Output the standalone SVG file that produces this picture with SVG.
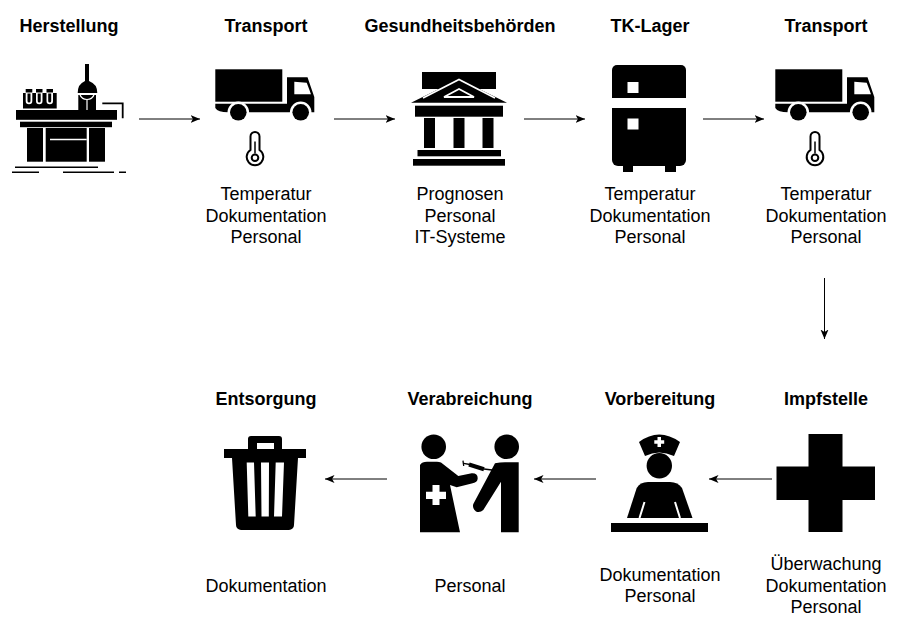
<svg xmlns="http://www.w3.org/2000/svg" xmlns:xlink="http://www.w3.org/1999/xlink" width="900" height="630" viewBox="0 0 900 630">
<style>
text{font-family:"Liberation Sans",Arial,sans-serif;font-size:18px;fill:#000;text-anchor:middle}
.t{font-weight:bold}
.c{stroke:#000;stroke-width:1;fill:none;marker-end:url(#a)}
.w{fill:#fff}
.ws{stroke:#fff;fill:none}
</style>
<defs>
<marker id="a" markerUnits="userSpaceOnUse" markerWidth="12" markerHeight="10" refX="9.500" refY="4" orient="auto" viewBox="0 0 12 8"><path d="M0 0L9.500 4L0 8L2.400 4Z"/></marker>
<g id="truck">
<rect x="215.300" y="69.300" width="67" height="32.400"/>
<path d="M215.300 103.700H287V77.300H307.500L314.300 97V112.300H228Q218 112.300 215.300 108Z"/>
<path class="w" d="M294.300 81.700L306.700 82.700L311 94.300H294.300Z"/>
<circle cx="238.300" cy="112.300" r="10.800" class="w"/><circle cx="238.300" cy="112.300" r="8.300"/>
<circle cx="300.700" cy="112.300" r="10.800" class="w"/><circle cx="300.700" cy="112.300" r="8.300"/>
<path d="M250.500 150V136.500a4.500 4.500 0 0 1 9 0V150a8.300 8.300 0 1 1-9 0Z" fill="#fff" stroke="#000" stroke-width="2"/>
<circle cx="255" cy="157.700" r="3.300" fill="#fff" stroke="#000" stroke-width="2"/>
<path d="M255 141.500V153.500" stroke="#000" stroke-width="1.500"/>
</g>
</defs>
<g id="connectors">
<path class="c" d="M139 119H200"/>
<path class="c" d="M334 119H395"/>
<path class="c" d="M524 119H585"/>
<path class="c" d="M703 119H764"/>
<path class="c" d="M824.500 278V339"/>
<path class="c" d="M772 479H709"/>
<path class="c" d="M596 479H534"/>
<path class="c" d="M387 479H325"/>
</g>
<g id="herstellung">
<text class="t" x="69" y="32">Herstellung</text>
<rect x="16" y="110" width="101" height="9.800"/>
<rect x="20" y="121.700" width="92" height="5.500"/>
<rect x="27" y="128" width="16" height="33.700"/>
<rect x="45.700" y="128" width="41" height="33.700"/>
<rect x="89" y="128" width="16" height="33.700"/>
<path class="ws" stroke-width="1.500" d="M50 139.500H86.700"/>
<rect x="23" y="93" width="33.700" height="15.500"/>
<path class="w" d="M25.700 92H32.300V101a3.300 3.300 0 0 1-6.600 0ZM36 92H42.500V101a3.250 3.250 0 0 1-6.500 0ZM46.500 92H53V101a3.250 3.250 0 0 1-6.500 0Z"/>
<path d="M27.500 93.500H30.500V101a1.500 1.500 0 0 1-3 0ZM37.700 93.500H40.700V101a1.500 1.500 0 0 1-3 0ZM48.200 93.500H51.200V101a1.500 1.500 0 0 1-3 0Z"/>
<rect x="25.700" y="89" width="6.600" height="3.500"/><rect x="36" y="89" width="6.500" height="3.500"/><rect x="46.500" y="89" width="6.500" height="3.500"/>
<path d="M85 64H89V81Q97.300 84 97.300 93H77.700Q77.700 84 85 81Z"/>
<rect x="78.300" y="95" width="17.700" height="15"/>
<path class="ws" stroke-width="1.200" d="M87 99.500V110M79.500 93.500Q81.500 99.500 87 99.500Q92.500 99.500 94.500 93.500"/>
<path d="M102.300 103.300H122.700V118.300" fill="none" stroke="#000" stroke-width="1.800"/>
<path d="M15 167.300H98M12 172.300H39M63 172.300H114M119 172.300H126" fill="none" stroke="#000" stroke-width="1.500"/>
</g>
<g id="transport1">
<text class="t" x="266" y="32">Transport</text>
<use xlink:href="#truck"/>
<text x="266" y="199.500">Temperatur</text><text x="266" y="221.500">Dokumentation</text><text x="266" y="242.500">Personal</text>
</g>
<g id="behoerden">
<text class="t" x="460" y="32">Gesundheitsbehörden</text>
<rect x="422" y="72" width="74" height="17"/>
<path d="M459 79L411 102.700H507Z"/>
<path class="ws" stroke-width="1.800" d="M423 98L459 79.500L495 98"/>
<path d="M459 89L444 97H474Z" fill="#000" stroke="#fff" stroke-width="1.800"/>
<rect x="415" y="105.700" width="88" height="11"/>
<rect x="424" y="118" width="11" height="30"/><rect x="453.500" y="118" width="11" height="30"/><rect x="482.500" y="118" width="11" height="30"/>
<rect x="417.500" y="150" width="83.500" height="6.300"/>
<rect x="413" y="159" width="92" height="6.700"/>
<text x="460" y="199.500">Prognosen</text><text x="460" y="221.500">Personal</text><text x="460" y="242.500">IT-Systeme</text>
</g>
<g id="tklager">
<text class="t" x="650" y="32">TK-Lager</text>
<path d="M612 98V70a5 5 0 0 1 5-5H681a5 5 0 0 1 5 5V98Z"/>
<path d="M612 108H686V160a6 6 0 0 1-6 6H618a6 6 0 0 1-6-6Z"/>
<rect x="623" y="165" width="10" height="7"/><rect x="665" y="165" width="11" height="7"/>
<rect class="w" x="627.500" y="82" width="11" height="11"/><rect class="w" x="627.500" y="118.500" width="11" height="11"/>
<text x="650" y="199.500">Temperatur</text><text x="650" y="221.500">Dokumentation</text><text x="650" y="242.500">Personal</text>
</g>
<g id="transport2">
<text class="t" x="826" y="32">Transport</text>
<use xlink:href="#truck" x="560"/>
<text x="826" y="199.500">Temperatur</text><text x="826" y="221.500">Dokumentation</text><text x="826" y="242.500">Personal</text>
</g>
<g id="impfstelle">
<text class="t" x="826" y="405">Impfstelle</text>
<path d="M808.500 434H842.500V466.500H875V500H842.500V532H808.500V500H776.500V466.500H808.500Z"/>
<text x="826" y="570">Überwachung</text><text x="826" y="591.500">Dokumentation</text><text x="826" y="612.500">Personal</text>
</g>
<g id="vorbereitung">
<text class="t" x="660" y="405">Vorbereitung</text>
<path d="M639 442Q659 427 680 442L674 456Q659 449 645 456Z"/>
<path class="w" d="M657.500 437h3.500v3.200h3.200v3.500h-3.200v3.200h-3.500v-3.200h-3.200v-3.500h3.200Z"/>
<circle cx="659.300" cy="465.700" r="12.700"/>
<path d="M627 518L636.700 488Q640 482 648 482H670Q678 482 682 488L692.500 518Z"/>
<path class="ws" stroke-width="2" d="M644.500 502L639.500 518M675 502L680 518"/>
<rect x="611" y="523" width="97" height="9"/>
<text x="660" y="580.500">Dokumentation</text><text x="660" y="601.500">Personal</text>
</g>
<g id="verabreichung">
<text class="t" x="470" y="405">Verabreichung</text>
<circle cx="433.700" cy="446.700" r="12.300"/><circle cx="506.700" cy="446.700" r="12.300"/>
<path d="M420 465Q422 461.700 427 461.700H437Q439 461.700 441 462.500L458.300 476L471.700 473.300Q477.700 473 477.700 478.300Q477.700 482.500 471.700 483.500L456.700 487.300L450 485L460 532.300H420Z"/>
<path class="w" d="M432.500 485H439.500V491.700H446V499H439.500V505H432.500V499H426V491.700H432.500Z"/>
<path d="M518.700 462.300V532.300H501V481.700L483.300 510Q480 513 476 511.500Q472 508.500 473.300 504L495 463.300Q500 462.300 505 462.300Z"/>
<path d="M463 460.700L463.700 466" stroke="#000" stroke-width="1.300" fill="none"/>
<path d="M463.500 463.300L470 464.500" stroke="#000" stroke-width="1.300" fill="none"/>
<path d="M469 464.500L484 469.300" stroke="#000" stroke-width="4.200" fill="none"/>
<path d="M484 469L494 470.300" stroke="#000" stroke-width="1.500" fill="none"/>
<text x="470" y="591.500">Personal</text>
</g>
<g id="entsorgung">
<text class="t" x="266" y="405">Entsorgung</text>
<path d="M248 449V439a3 3 0 0 1 3-3H279a3 3 0 0 1 3 3V449H274V443H257V449Z"/>
<rect x="224" y="449" width="82" height="9"/>
<path d="M232 458H298L294 525a5 5 0 0 1-5 5H241a5 5 0 0 1-5-5Z"/>
<path class="w" d="M246.700 462.500H254L255.700 516.500H248.300ZM261 462.500H269L268.800 516.500H261.500ZM275.700 462.500H284L282 516.500H274Z"/>
<text x="266" y="591.500">Dokumentation</text>
</g>
</svg>
